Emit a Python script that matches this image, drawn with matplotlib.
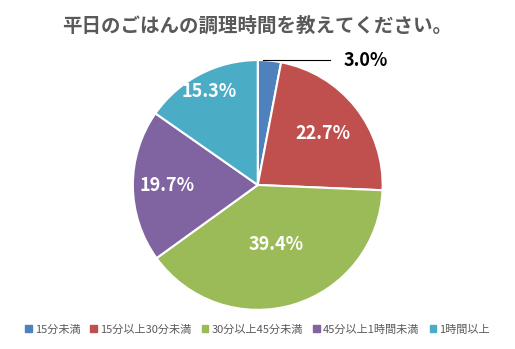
import matplotlib.pyplot as plt
import numpy as np

plt.rcParams['font.family'] = ['Noto Sans CJK JP', 'DejaVu Sans']

categories = ["15分未満", "15分以上30分未満", "30分以上45分未満", "45分以上1時間未満", "1時間以上"]
values = [3.0, 22.7, 39.4, 19.7, 15.3]
colors = ["#4F81BD", "#C0504D", "#9BBB59", "#8064A2", "#4BACC6"]
label_r = [None, 0.67, 0.5, 0.73, 0.84]

fig = plt.figure(figsize=(5.15, 3.49), dpi=100)
ax = fig.add_axes([0.258, 0.112, 0.485, 0.716])
wedges, _ = ax.pie(values, colors=colors, startangle=90, counterclock=False,
                   wedgeprops=dict(edgecolor="white", linewidth=1.5))
ax.set_xlim(-1, 1)
ax.set_ylim(-1, 1)
ax.set_aspect("equal")

for w, v, r in zip(wedges, values, label_r):
    mid = np.deg2rad((w.theta1 + w.theta2) / 2)
    if r is None:
        # small slice: label outside with leader line
        ax.plot([0.04, 0.58], [1.0, 1.0], color="black", lw=0.8, clip_on=False)
        ax.text(0.69, 1.0, f"{v:.1f}%", ha="left", va="center", fontsize=13,
                fontweight="bold", color="black")
    else:
        ax.text(r * np.cos(mid), r * np.sin(mid), f"{v:.1f}%", ha="center", va="center",
                fontsize=13, fontweight="bold", color="white")

#title
fig.text(0.5, 0.925, "平日のごはんの調理時間を教えてください。", ha="center", va="center",
         fontsize=14, fontweight="bold", color="#595959")

#legend
handles = [plt.Rectangle((0, 0), 1, 1, color=c) for c in colors]
fig.legend(handles, categories, loc="center", bbox_to_anchor=(0.5, 0.055), ncol=5,
           frameon=False, fontsize=8, handlelength=0.6, handleheight=0.6,
           handletextpad=0.3, columnspacing=0.9, labelcolor="#595959")

plt.savefig("out.png", dpi=100)
